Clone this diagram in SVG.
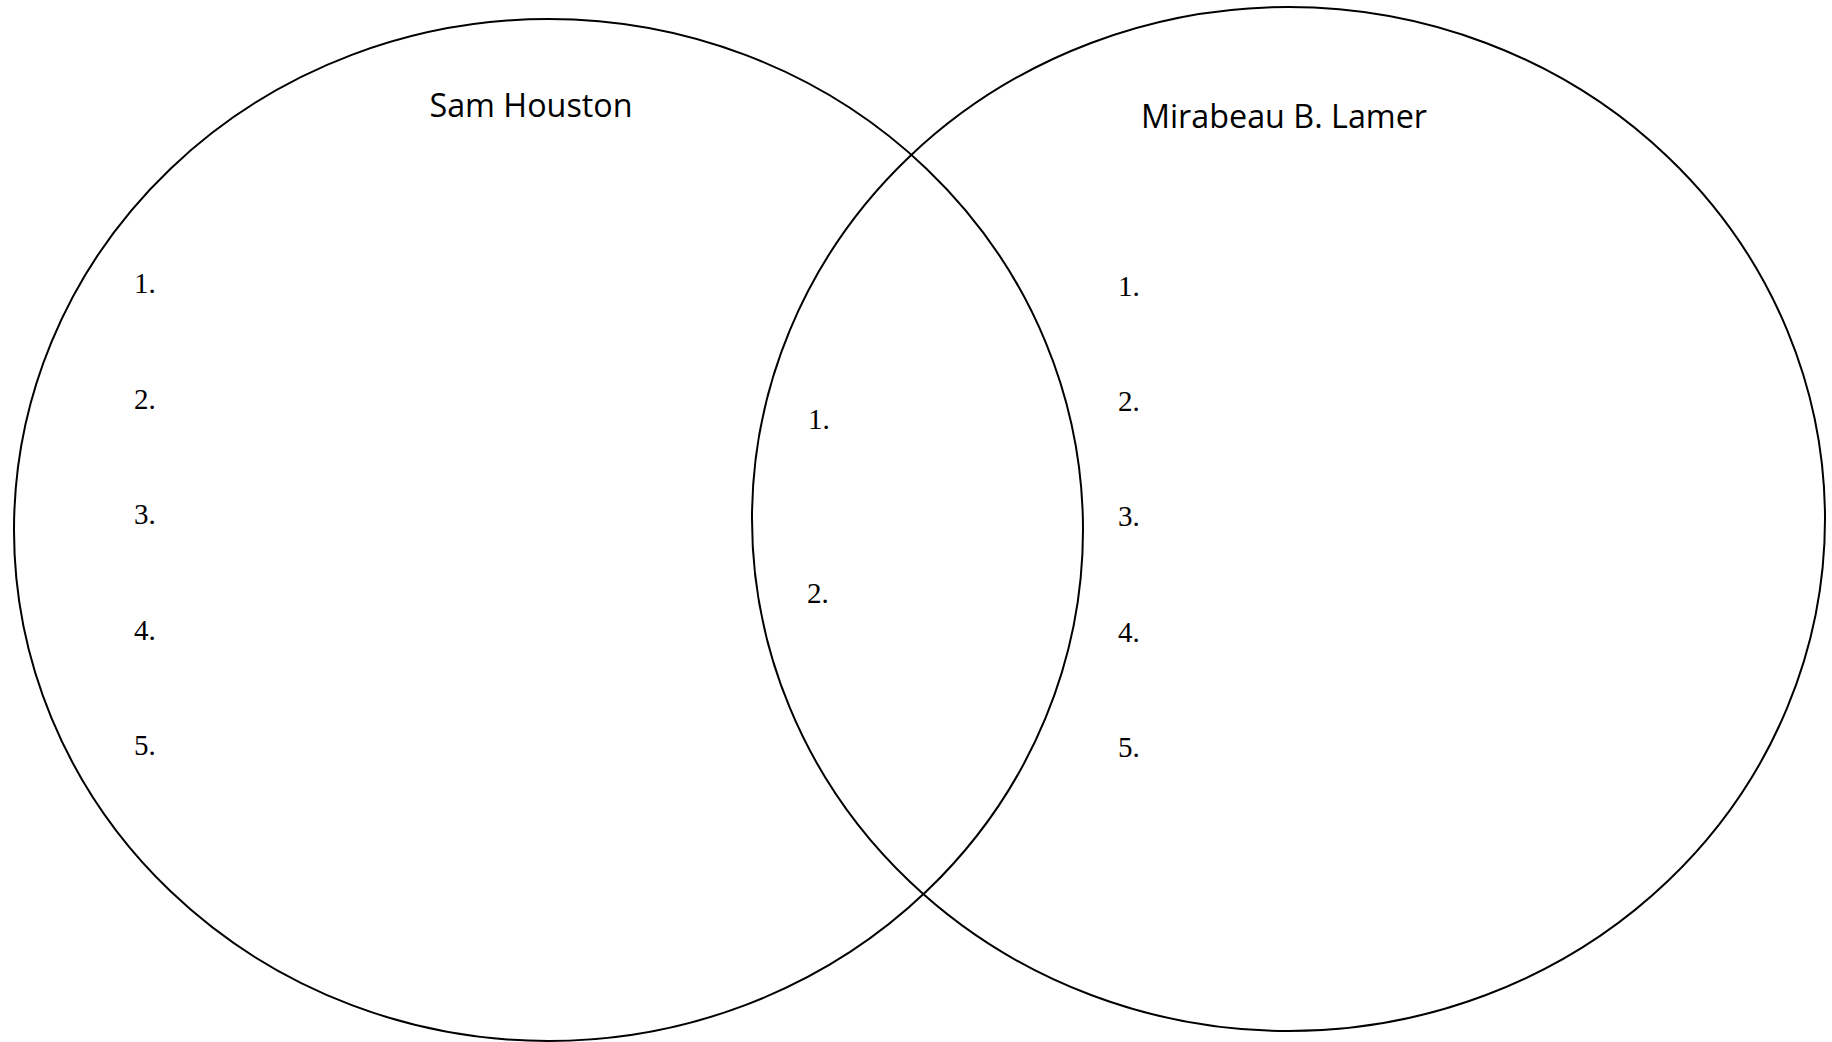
<svg xmlns="http://www.w3.org/2000/svg" width="1832" height="1042" viewBox="0 0 1832 1042">
<style>
.c{fill:none;stroke:#000;stroke-width:2}
.t{font-family:"Open Sans","Liberation Sans",sans-serif;font-size:32.3px;fill:#000;text-anchor:middle}
.n{font-family:"Liberation Serif","Times New Roman",serif;font-size:29px;fill:#000}
</style>
<rect width="1832" height="1042" fill="#fff"/>
<g id="left">
<ellipse class="c" cx="548.5" cy="530" rx="534.5" ry="511"/>
<text class="t" x="531" y="117">Sam Houston</text>
<text class="n" x="134" y="293">1.</text>
<text class="n" x="134" y="409">2.</text>
<text class="n" x="134" y="524">3.</text>
<text class="n" x="134" y="640">4.</text>
<text class="n" x="134" y="755">5.</text>
</g>
<g id="right">
<ellipse class="c" cx="1288.5" cy="519" rx="536.5" ry="512"/>
<text class="t" x="1284" y="128">Mirabeau B. Lamer</text>
<text class="n" x="1118" y="296">1.</text>
<text class="n" x="1118" y="411">2.</text>
<text class="n" x="1118" y="526">3.</text>
<text class="n" x="1118" y="642">4.</text>
<text class="n" x="1118" y="757">5.</text>
</g>
<g id="overlap">
<text class="n" x="808" y="429">1.</text>
<text class="n" x="807" y="603">2.</text>
</g>
<g id="connectors"/>
</svg>
